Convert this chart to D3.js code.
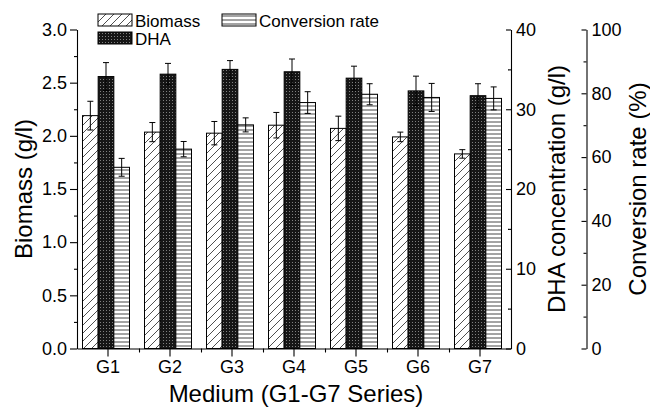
<!DOCTYPE html>
<html>
<head>
<meta charset="utf-8">
<script src="https://cdn.jsdelivr.net/npm/d3@7"></script>
<style>
  body { margin: 0; background: #fff; }
  text { font-family: "Liberation Sans", Arial, sans-serif; fill: #000; }
  .axis path, .axis line { stroke: #000; stroke-width: 1.1; }
</style>
</head>
<body>
<div id="chart"></div>
<script>
// values
var groups = ["G1", "G2", "G3", "G4", "G5", "G6", "G7"];
var biomass = [2.19, 2.035, 2.025, 2.10, 2.07, 1.99, 1.83];      // g/l
var biomassErr = [0.135, 0.09, 0.11, 0.12, 0.115, 0.045, 0.04];
var dha = [34.1, 34.4, 35.0, 34.7, 33.9, 32.3, 31.7];             // g/l
var dhaErr = [1.75, 1.35, 1.1, 1.6, 1.5, 1.85, 1.5];
var conv = [56.8, 62.5, 70.1, 77.1, 79.7, 78.7, 78.4];            // %
var convErr = [2.8, 2.4, 2.2, 3.4, 3.3, 4.4, 3.6];
var seriesKeys = ["biomass", "dha", "conv"];
var legendLabels = ["Biomass", "DHA", "Conversion rate"];
var biomassTicks = [0, 0.5, 1.0, 1.5, 2.0, 2.5, 3.0];
var dhaTicks = [0, 10, 20, 30, 40];
var convTicks = [0, 20, 40, 60, 80, 100];

var W = 650, H = 408;
var yTop = 29.5, yBottom = 348.5, xLeft = 77, xRight = 511, convX = 586.5;

var svg = d3.select("#chart").append("svg")
  .attr("width", W)
  .attr("height", H);

// fill patterns
var defs = svg.append("defs");
var hatch = defs.append("pattern").attr("id", "hatch")
  .attr("patternUnits", "userSpaceOnUse").attr("width", 8).attr("height", 8);
hatch.append("rect").attr("width", 8).attr("height", 8).attr("fill", "#fff");
hatch.append("path").attr("d", "M-2,2 L2,-2 M0,8 L8,0 M6,10 L10,6")
  .attr("stroke", "#222").attr("stroke-width", 0.8);

var dots = defs.append("pattern").attr("id", "dots")
  .attr("patternUnits", "userSpaceOnUse").attr("width", 3).attr("height", 3);
dots.append("rect").attr("width", 3).attr("height", 3).attr("fill", "#161616");
dots.append("rect").attr("x", 1).attr("y", 1).attr("width", 1).attr("height", 1).attr("fill", "#808080");

var hlines = defs.append("pattern").attr("id", "hlines")
  .attr("patternUnits", "userSpaceOnUse").attr("width", 4).attr("height", 4);
hlines.append("rect").attr("width", 4).attr("height", 4).attr("fill", "#fff");
hlines.append("line").attr("x1", 0).attr("x2", 4).attr("y1", 2).attr("y2", 2)
  .attr("stroke", "#333").attr("stroke-width", 0.9);

var fills = { biomass: "url(#hatch)", dha: "url(#dots)", conv: "url(#hlines)" };

// scales
var x = d3.scaleBand().domain(groups).range([xLeft, xRight]);
var xs = d3.scaleBand().domain(seriesKeys).range([-25.5, 21.5]);
var yB = d3.scaleLinear().domain([0, 3]).range([yBottom, yTop]);
var yD = d3.scaleLinear().domain([0, 40]).range([yBottom, yTop]);
var yC = d3.scaleLinear().domain([0, 100]).range([yBottom, yTop]);

var rows = groups.map(function(g, i) {
  return [
    { g: g, key: "biomass", v: biomass[i], e: biomassErr[i], y: yB },
    { g: g, key: "dha", v: dha[i], e: dhaErr[i], y: yD },
    { g: g, key: "conv", v: conv[i], e: convErr[i], y: yC }
  ];
});
var flat = d3.merge(rows);

function cx(d) { return x(d.g) + x.bandwidth() / 2 + xs(d.key); }
function mid(d) { return cx(d) + xs.bandwidth() / 2; }

// bars
svg.append("g").selectAll("rect")
  .data(flat)
  .enter().append("rect")
  .attr("x", cx)
  .attr("width", xs.bandwidth())
  .attr("y", function(d) { return d.y(d.v); })
  .attr("height", function(d) { return yBottom - d.y(d.v); })
  .attr("fill", function(d) { return fills[d.key]; })
  .attr("stroke", "#000")
  .attr("stroke-width", 1);

// error bars
var eb = svg.append("g").attr("stroke", "#000").attr("stroke-width", 1)
  .selectAll("g").data(flat).enter().append("g");
eb.append("line")
  .attr("x1", mid).attr("x2", mid)
  .attr("y1", function(d) { return d.y(d.v + d.e); })
  .attr("y2", function(d) { return d.y(d.v - d.e); });
eb.append("line")
  .attr("x1", function(d) { return mid(d) - 3; })
  .attr("x2", function(d) { return mid(d) + 3; })
  .attr("y1", function(d) { return d.y(d.v + d.e); })
  .attr("y2", function(d) { return d.y(d.v + d.e); });
eb.append("line")
  .attr("x1", function(d) { return mid(d) - 3; })
  .attr("x2", function(d) { return mid(d) + 3; })
  .attr("y1", function(d) { return d.y(d.v - d.e); })
  .attr("y2", function(d) { return d.y(d.v - d.e); });

function styleAxis(g) {
  g.selectAll("text")
    .style("font-size", "18px")
    .style("font-family", "'Liberation Sans', Arial, sans-serif");
}

// left axis (biomass)
svg.append("g").attr("class", "axis")
  .attr("transform", "translate(" + xLeft + ",0)")
  .call(d3.axisLeft(yB).tickValues(biomassTicks).tickFormat(d3.format(".1f"))
    .tickSize(7).tickSizeOuter(0).tickPadding(3))
  .call(styleAxis);
svg.append("g").attr("class", "axis")
  .attr("transform", "translate(" + xLeft + ",0)")
  .call(d3.axisLeft(yB).tickValues(biomassTicks.slice(1).map(function(t) { return t - 0.25; }))
    .tickFormat("").tickSize(3).tickSizeOuter(0))
  .select(".domain").remove();

// bottom axis
svg.append("g").attr("class", "axis")
  .attr("transform", "translate(0," + yBottom + ")")
  .call(d3.axisBottom(x).tickSize(8).tickSizeOuter(0).tickPadding(4))
  .call(styleAxis);
svg.append("g").attr("class", "axis")
  .attr("transform", "translate(0," + yBottom + ")")
  .call(d3.axisBottom(d3.scaleLinear().domain([xLeft, xRight]).range([xLeft, xRight]))
    .tickValues(groups.slice(1).map(function(g) { return x(g); }))
    .tickFormat("").tickSize(4).tickSizeOuter(0))
  .select(".domain").remove();

// DHA axis
svg.append("g").attr("class", "axis")
  .attr("transform", "translate(" + xRight + ",0)")
  .call(d3.axisRight(yD).tickValues(dhaTicks).tickSizeInner(-5).tickSizeOuter(0).tickPadding(5))
  .call(styleAxis);
svg.append("g").attr("class", "axis")
  .attr("transform", "translate(" + xRight + ",0)")
  .call(d3.axisRight(yD).tickValues(dhaTicks.slice(1).map(function(t) { return t - 5; }))
    .tickFormat("").tickSizeInner(-3).tickSizeOuter(0))
  .select(".domain").remove();

// conversion rate axis
svg.append("g").attr("class", "axis")
  .attr("transform", "translate(" + convX + ",0)")
  .call(d3.axisRight(yC).tickValues(convTicks).tickSizeInner(-5).tickSizeOuter(0).tickPadding(5))
  .call(styleAxis);
svg.append("g").attr("class", "axis")
  .attr("transform", "translate(" + convX + ",0)")
  .call(d3.axisRight(yC).tickValues(convTicks.slice(1).map(function(t) { return t - 10; }))
    .tickFormat("").tickSizeInner(-3).tickSizeOuter(0))
  .select(".domain").remove();

// axis titles
var midY = (yTop + yBottom) / 2;
svg.append("text")
  .attr("transform", "translate(32," + midY + ") rotate(-90)")
  .attr("text-anchor", "middle").style("font-size", "24px")
  .text("Biomass (g/l)");
svg.append("text")
  .attr("transform", "translate(565," + midY + ") rotate(-90)")
  .attr("text-anchor", "middle").style("font-size", "24px")
  .text("DHA concentration (g/l)");
svg.append("text")
  .attr("transform", "translate(646," + midY + ") rotate(-90)")
  .attr("text-anchor", "middle").style("font-size", "24px")
  .text("Conversion rate (%)");
svg.append("text")
  .attr("x", 296).attr("y", 402)
  .attr("text-anchor", "middle").style("font-size", "24px")
  .text("Medium (G1-G7 Series)");

// legend
var legendPos = [[98, 14], [98, 32], [222, 14]];
var leg = svg.append("g").selectAll("g")
  .data(seriesKeys)
  .enter().append("g")
  .attr("transform", function(d, i) { return "translate(" + legendPos[i][0] + "," + legendPos[i][1] + ")"; });
leg.append("rect")
  .attr("width", 34).attr("height", 12)
  .attr("fill", function(d) { return fills[d]; })
  .attr("stroke", "#000").attr("stroke-width", 1);
leg.append("text")
  .attr("x", 37).attr("y", 12.5)
  .style("font-size", "17px")
  .text(function(d, i) { return legendLabels[i]; });
</script>
</body>
</html>
